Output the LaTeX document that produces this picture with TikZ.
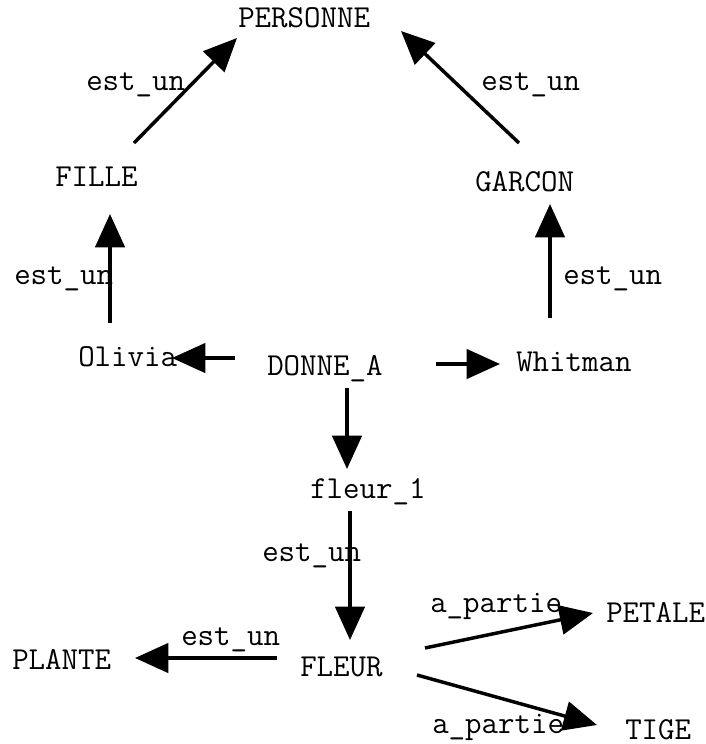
\documentclass[tikz,border=0pt]{standalone}
\usepackage{fontspec}
\usetikzlibrary{arrows.meta}
\begin{document}
\begin{tikzpicture}[x=0.75pt,y=-0.75pt,
  lbl/.style={anchor=base west,inner sep=0pt,font=\ttfamily\fontsize{24}{26}\selectfont},
  conn/.style={line width=2.6pt,-{Triangle[length=25pt,width=22pt]}}]
\useasboundingbox (0,0) rectangle (706,744);
% nodes
\node[lbl] (PERSONNE) at (238,27) {PERSONNE};
\node[lbl] (FILLE) at (55,186) {FILLE};
\node[lbl] (GARCON) at (475,191) {GARCON};
\node[lbl] (Olivia) at (78,366) {Olivia};
\node[lbl] (DONNE) at (267,375) {DONNE\_A};
\node[lbl] (Whitman) at (516,371) {Whitman};
\node[lbl] (fleur1) at (310,498) {fleur\_1};
\node[lbl] (FLEUR) at (300,676) {FLEUR};
\node[lbl] (PLANTE) at (12,669) {PLANTE};
\node[lbl] (PETALE) at (606,622) {PETALE};
\node[lbl] (TIGE) at (625,739) {TIGE};
% edge labels
\node[lbl] (l1) at (86,90) {est\_un};
\node[lbl] (l2) at (481,90) {est\_un};
\node[lbl] (l3) at (14,284) {est\_un};
\node[lbl] (l4) at (563,284) {est\_un};
\node[lbl] (l5) at (262,561) {est\_un};
\node[lbl] (l6) at (181,645) {est\_un};
\node[lbl] (l7) at (430,612) {a\_partie};
\node[lbl] (l8) at (432,733) {a\_partie};
% connector end points
\coordinate (a1s) at (134,143); \coordinate (a1t) at (237,38);
\coordinate (a2s) at (519,143); \coordinate (a2t) at (401,31);
\coordinate (a3s) at (110,323); \coordinate (a3t) at (110,214);
\coordinate (a4s) at (550,318); \coordinate (a4t) at (550,204);
\coordinate (a5s) at (235,358); \coordinate (a5t) at (172,358);
\coordinate (a6s) at (436,364); \coordinate (a6t) at (500,364);
\coordinate (a7s) at (347,388); \coordinate (a7t) at (347,469);
\coordinate (a8s) at (350,511); \coordinate (a8t) at (350,640);
\coordinate (a9s) at (277,658); \coordinate (a9t) at (135,658);
\coordinate (a10s) at (425,648); \coordinate (a10t) at (593,613);
\coordinate (a11s) at (417,675); \coordinate (a11t) at (597,725);
% connectors
\draw[conn] (a1s) -- (a1t);
\draw[conn] (a2s) -- (a2t);
\draw[conn] (a3s) -- (a3t);
\draw[conn] (a4s) -- (a4t);
\draw[conn] (a5s) -- (a5t);
\draw[conn] (a6s) -- (a6t);
\draw[conn] (a7s) -- (a7t);
\draw[conn] (a8s) -- (a8t);
\draw[conn] (a9s) -- (a9t);
\draw[conn] (a10s) -- (a10t);
\draw[conn] (a11s) -- (a11t);
\end{tikzpicture}
\end{document}
